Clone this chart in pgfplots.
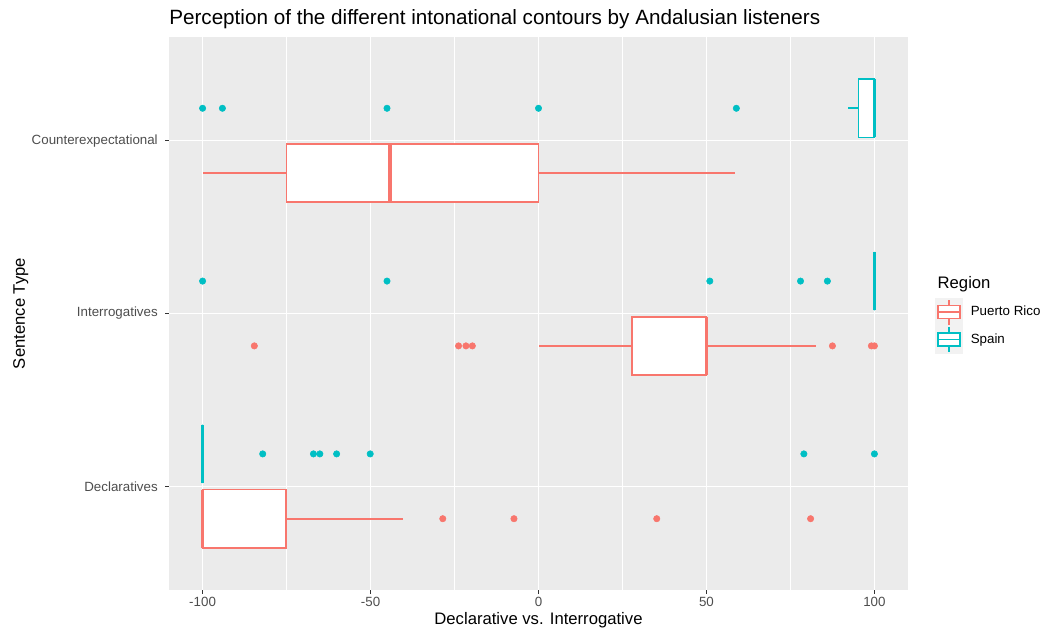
\documentclass[border=0pt]{standalone}
\usepackage{fontspec}
\setmainfont{Liberation Sans}
\usepackage{pgfplots}
\pgfplotsset{compat=1.18}
\usepgfplotslibrary{statistics}

\definecolor{prcol}{HTML}{F8766D}
\definecolor{spcol}{HTML}{00BFC4}
\definecolor{panel}{HTML}{EBEBEB}
\definecolor{keybg}{HTML}{F2F2F2}
\definecolor{tickcol}{HTML}{333333}
\definecolor{ticklab}{HTML}{4D4D4D}

\pgfplotsset{
  gbox/.style={
    boxplot/draw direction=x,
    draw=#1, solid, line width=1.2pt, forget plot,
    boxplot/whisker extend=0,
    boxplot/box extend=0.3375,
    boxplot/every box/.style={fill=white},
    boxplot/every median/.style={line width=2.3pt, fill=none},
    boxplot/every whisker/.style={fill=none},
  },
  outl/.style={only marks, mark=*, mark size=2.4pt, color=#1, forget plot},
  keyimg/.style={legend image code/.code={
      \fill[keybg] (0pt,-10.125pt) rectangle (20.25pt,10.125pt);
      \draw[draw=#1, line width=1pt, fill=white] (1.9pt,-4.9pt) rectangle (18.4pt,4.9pt);
      \draw[draw=#1, line width=1pt] (1.9pt,0pt) -- (18.4pt,0pt);
      \draw[draw=#1, line width=1pt] (10.125pt,4.9pt) -- (10.125pt,9.4pt);
      \draw[draw=#1, line width=1pt] (10.125pt,-4.9pt) -- (10.125pt,-9.4pt);
  }},
}

\begin{document}
\begin{tikzpicture}
\useasboundingbox (0,0) rectangle (781.5pt,472.5pt);
\begin{axis}[
  at={(126.75pt,30pt)}, anchor=south west,
  scale only axis, width=554.25pt, height=414.75pt,
  xmin=-110, xmax=110, ymin=0.4, ymax=3.6,
  clip=false,
  axis background/.style={fill=panel},
  axis line style={draw=none},
  xtick={-100,-50,0,50,100}, xticklabels={-100,-50,0,50,100},
  minor xtick={-75,-25,25,75},
  ytick={1,2,3}, yticklabels={Declaratives,Interrogatives,Counterexpectational},
  xtick pos=left, ytick pos=left,
  tick align=outside,
  major tick length=3pt, minor tick length=0pt,
  major tick style={draw=tickcol, line width=0.8pt},
  xmajorgrids, xminorgrids, ymajorgrids,
  major grid style={white, line width=1.1pt},
  minor grid style={white, line width=0.55pt},
  tick label style={font=\fontsize{10}{12}\selectfont, text=ticklab},
  yticklabel style={inner sep=0pt, xshift=-5.25pt},
  xticklabel style={inner sep=0pt, yshift=-2.25pt},
  title={Perception of the different intonational contours by Andalusian listeners},
  title style={at={(axis description cs:0,1)}, anchor=base west, inner sep=0pt,
    yshift=3pt, font=\fontsize{15.5}{18}\selectfont},
  xlabel={Declarative vs. Interrogative},
  xlabel style={at={(axis description cs:0.5,0)}, anchor=base, yshift=-26.25pt,
    font=\fontsize{12.5}{15}\selectfont},
  ylabel={Sentence Type},
  ylabel style={at={(axis description cs:-0.1949,0.5)}, anchor=base,
    font=\fontsize{12.5}{15}\selectfont},
  legend style={at={(axis description cs:1.0365,0.528)}, anchor=north west,
    draw=none, fill=none, inner sep=0pt, row sep=0pt,
    font=\fontsize{10}{12}\selectfont, nodes={inner sep=0pt},
    /tikz/every odd column/.append style={column sep=6pt}},
  legend cell align=left,
]

% Counterexpectational
\addplot[gbox=prcol, boxplot prepared={lower whisker=-100, lower quartile=-75,
  median=-44.2, upper quartile=0, upper whisker=58.5, draw position=2.8125}] coordinates {};
\addplot[gbox=spcol, boxplot prepared={lower whisker=92.2, lower quartile=95.3,
  median=100, upper quartile=100, upper whisker=100, draw position=3.1875}] coordinates {};
\addplot[outl=spcol] coordinates {(-100,3.1875) (-94.1,3.1875) (-45.1,3.1875) (0,3.1875) (58.9,3.1875)};

% Interrogatives
\addplot[gbox=prcol, boxplot prepared={lower whisker=0, lower quartile=27.8,
  median=50, upper quartile=50, upper whisker=82.6, draw position=1.8125}] coordinates {};
\addplot[gbox=spcol, boxplot prepared={lower whisker=100, lower quartile=100,
  median=100, upper quartile=100, upper whisker=100, draw position=2.1875}] coordinates {};
\addplot[outl=prcol] coordinates {(-84.6,1.8125) (-23.8,1.8125) (-21.6,1.8125) (-19.7,1.8125)
  (87.5,1.8125) (99.1,1.8125) (100,1.8125)};
\addplot[outl=spcol] coordinates {(-100,2.1875) (-45.1,2.1875) (51,2.1875) (78,2.1875) (86,2.1875)};

% Declaratives
\addplot[gbox=prcol, boxplot prepared={lower whisker=-100, lower quartile=-100,
  median=-100, upper quartile=-75.2, upper whisker=-40.2, draw position=0.8125}] coordinates {};
\addplot[gbox=spcol, boxplot prepared={lower whisker=-100, lower quartile=-100,
  median=-100, upper quartile=-100, upper whisker=-100, draw position=1.1875}] coordinates {};
\addplot[outl=prcol] coordinates {(-28.5,0.8125) (-7.3,0.8125) (35.2,0.8125) (81,0.8125)};
\addplot[outl=spcol] coordinates {(-82.1,1.1875) (-67,1.1875) (-65.1,1.1875) (-60.1,1.1875)
  (-50.1,1.1875) (79,1.1875) (100,1.1875)};

\addlegendimage{keyimg=prcol}
\addlegendentry{Puerto Rico}
\addlegendimage{keyimg=spcol}
\addlegendentry{Spain}

\node[anchor=base west, font=\fontsize{12.5}{15}\selectfont] at (axis description cs:1.0338,0.5461) {Region};
\end{axis}
\end{tikzpicture}
\end{document}
